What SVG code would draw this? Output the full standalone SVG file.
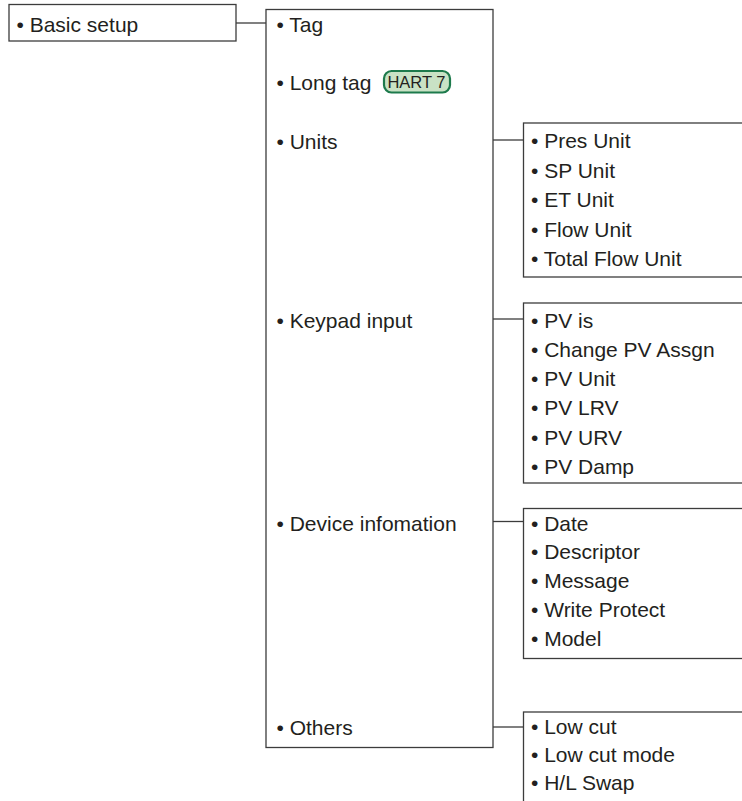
<svg xmlns="http://www.w3.org/2000/svg" width="742" height="801" viewBox="0 0 742 801">
<style>
.box{fill:#fff;stroke:#3c3c3c;stroke-width:1.3}
.ln{stroke:#3c3c3c;stroke-width:1.3;fill:none}
text{font-family:'Liberation Sans',Arial,sans-serif;font-size:21px;fill:#231f20}
.badge{fill:#c9e2c5;stroke:#1d7a4c;stroke-width:2.2}
.bt{font-size:16.5px}
</style>
<rect width="742" height="801" fill="#fff"/>
<g id="connectors">
<line class="ln" x1="236" y1="23" x2="266" y2="23"/>
<line class="ln" x1="493" y1="140" x2="523" y2="140"/>
<line class="ln" x1="493" y1="319" x2="523" y2="319"/>
<line class="ln" x1="493" y1="521.5" x2="523" y2="521.5"/>
<line class="ln" x1="493" y1="727" x2="523" y2="727"/>
</g>
<g id="basic-setup">
<rect class="box" x="9" y="4.5" width="227" height="36.5"/>
<text x="16.5" y="31.5">• Basic setup</text>
</g>
<g id="menu">
<rect class="box" x="266" y="9.5" width="227" height="738"/>
<text x="276.5" y="31.5">• Tag</text>
<text x="276.5" y="90">• Long tag</text>
<text x="276.5" y="149">• Units</text>
<text x="276.5" y="328">• Keypad input</text>
<text x="276.5" y="531">• Device infomation</text>
<text x="276.5" y="735">• Others</text>
</g>
<g id="hart7">
<rect class="badge" x="384" y="71" width="66" height="21.5" rx="7.5"/>
<text class="bt" x="416.5" y="87.7" text-anchor="middle">HART 7</text>
</g>
<g id="units">
<rect class="box" x="523.5" y="123" width="225" height="154"/>
<text x="531" y="148">• Pres Unit</text>
<text x="531" y="177.5">• SP Unit</text>
<text x="531" y="207">• ET Unit</text>
<text x="531" y="236.5">• Flow Unit</text>
<text x="531" y="266">• Total Flow Unit</text>
</g>
<g id="keypad">
<rect class="box" x="523.5" y="303" width="225" height="180"/>
<text x="531" y="327.5">• PV is</text>
<text x="531" y="356.8">• Change PV Assgn</text>
<text x="531" y="386.1">• PV Unit</text>
<text x="531" y="415.4">• PV LRV</text>
<text x="531" y="444.7">• PV URV</text>
<text x="531" y="474">• PV Damp</text>
</g>
<g id="device">
<rect class="box" x="523.5" y="508.5" width="225" height="150"/>
<text x="531" y="530.5">• Date</text>
<text x="531" y="559.4">• Descriptor</text>
<text x="531" y="588.3">• Message</text>
<text x="531" y="617.2">• Write Protect</text>
<text x="531" y="646">• Model</text>
</g>
<g id="others">
<rect class="box" x="523.5" y="712" width="225" height="100"/>
<text x="531" y="733.5">• Low cut</text>
<text x="531" y="761.7">• Low cut mode</text>
<text x="531" y="790">• H/L Swap</text>
</g>
</svg>
